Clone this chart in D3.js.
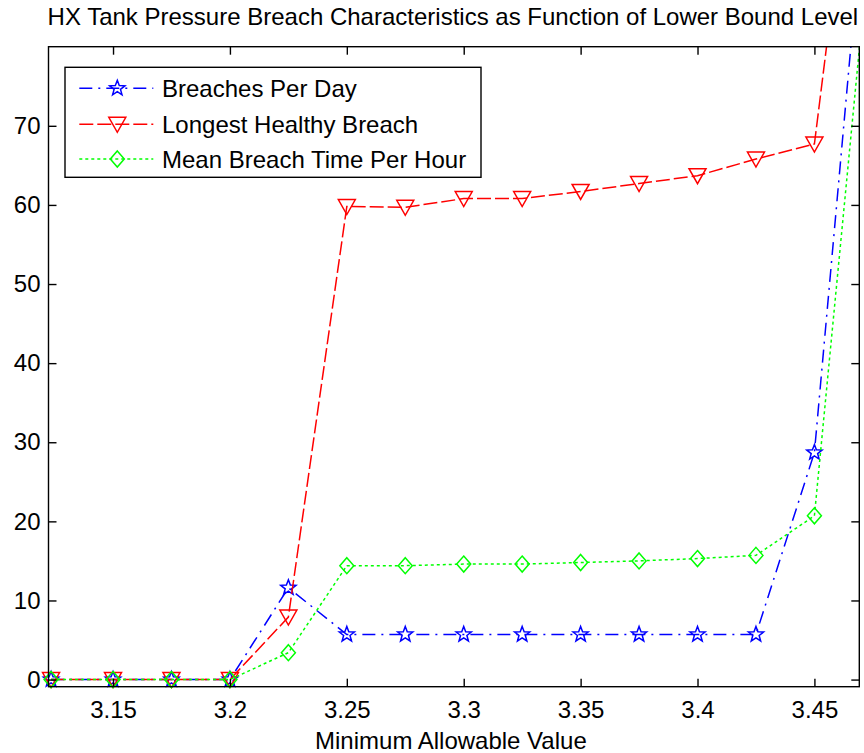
<!DOCTYPE html>
<html>
<head>
<meta charset="utf-8">
<script src="https://cdn.jsdelivr.net/npm/d3@7"></script>
<style>
html,body{margin:0;padding:0;background:#fff;}
text{font-family:"Liberation Sans",Arial,sans-serif;fill:#000;}
</style>
</head>
<body>
<svg id="chart" width="864" height="753"></svg>
<script>
// ---- data ----
const xValues = [3.1235, 3.15, 3.175, 3.2, 3.225, 3.25, 3.275, 3.3, 3.325, 3.35, 3.375, 3.4, 3.425, 3.45, 3.475];
const breachesPerDay = [0, 0, 0, 0, 11.6, 5.7, 5.7, 5.7, 5.7, 5.7, 5.7, 5.7, 5.7, 28.7, 111];
const longestHealthyBreach = [0, 0, 0, 0, 7.9, 59.8, 59.7, 60.8, 60.8, 61.7, 62.7, 63.7, 65.8, 67.7, 127];
const meanBreachTimePerHour = [0, 0, 0, 0, 3.4, 14.4, 14.4, 14.6, 14.6, 14.8, 15.0, 15.3, 15.7, 20.7, 97.5];
const seriesNames = ["Breaches Per Day", "Longest Healthy Breach", "Mean Breach Time Per Hour"];
const xTicks = [3.15, 3.2, 3.25, 3.3, 3.35, 3.4, 3.45];
const xTickLabels = ["3.15", "3.2", "3.25", "3.3", "3.35", "3.4", "3.45"];
const yTicks = [0, 10, 20, 30, 40, 50, 60, 70];
const titleText = "HX Tank Pressure Breach Characteristics as Function of Lower Bound Level";
const xLabelText = "Minimum Allowable Value";

// ---- layout ----
const L = 48.5, R = 859.3, T = 46.7, B = 686.7;
const FS = 24;
const svg = d3.select("#chart");
const x = d3.scaleLinear().domain([3.1224, 3.4692]).range([L, R]);
const y = d3.scaleLinear().domain([-0.9, 80]).range([B, T]);

const series = [
  {name: seriesNames[0], values: breachesPerDay, color: "#0000ff", dash: "13,6,2,6", marker: "star"},
  {name: seriesNames[1], values: longestHealthyBreach, color: "#ff0000", dash: "14,4", marker: "tri"},
  {name: seriesNames[2], values: meanBreachTimePerHour, color: "#00ff00", dash: "3,3", marker: "diamond"}
];

svg.append("defs").append("clipPath").attr("id", "clip")
  .append("rect").attr("x", L).attr("y", T).attr("width", R - L).attr("height", B - T);

// markers
function starPath(r) {
  const pts = [];
  const ri = r * 0.42;
  for (let i = 0; i < 10; i++) {
    const a = -Math.PI / 2 + i * Math.PI / 5;
    const rr = i % 2 === 0 ? r : ri;
    pts.push([rr * Math.cos(a), rr * Math.sin(a)]);
  }
  return "M" + pts.map(p => p[0].toFixed(2) + "," + p[1].toFixed(2)).join("L") + "Z";
}
function markerPath(type) {
  if (type === "star") return starPath(8);
  if (type === "tri") return "M-8.5,-7L8.5,-7L0,8Z";
  if (type === "diamond") return "M0,-8L7,0L0,8L-7,0Z";
}

// lines
const line = d3.line().x((d, i) => x(xValues[i])).y(d => y(d));
const plotG = svg.append("g");
series.forEach(s => {
  plotG.append("path")
    .attr("clip-path", "url(#clip)")
    .attr("d", line(s.values))
    .attr("fill", "none")
    .attr("stroke", s.color)
    .attr("stroke-width", 1.5)
    .attr("stroke-dasharray", s.dash);
  plotG.selectAll(null)
    .data(s.values.map((v, i) => ({xv: xValues[i], v})).filter(d => d.v <= 80 && d.xv <= 3.4692))
    .enter().append("path")
    .attr("d", markerPath(s.marker))
    .attr("transform", d => `translate(${x(d.xv)},${y(d.v)})`)
    .attr("fill", "none")
    .attr("stroke", s.color)
    .attr("stroke-width", 1.5);
});

// frame
const tickLen = 8;
svg.append("rect").attr("x", L).attr("y", T).attr("width", R - L).attr("height", B - T)
  .attr("fill", "none").attr("stroke", "#000").attr("stroke-width", 1.4);

const xAxisB = d3.axisBottom(x).tickValues(xTicks).tickFormat((d, i) => xTickLabels[i]).tickSize(-tickLen).tickPadding(14);
const gx = svg.append("g").attr("transform", `translate(0,${B})`).call(xAxisB);
const xAxisT = d3.axisTop(x).tickValues(xTicks).tickFormat("").tickSize(-tickLen);
const gxt = svg.append("g").attr("transform", `translate(0,${T})`).call(xAxisT);
const yAxisL = d3.axisLeft(y).tickValues(yTicks).tickFormat(d3.format("d")).tickSize(-tickLen).tickPadding(8);
const gy = svg.append("g").attr("transform", `translate(${L},0)`).call(yAxisL);
const yAxisR = d3.axisRight(y).tickValues(yTicks).tickFormat("").tickSize(-tickLen);
const gyr = svg.append("g").attr("transform", `translate(${R},0)`).call(yAxisR);
[gx, gxt, gy, gyr].forEach(g => {
  g.select(".domain").remove();
  g.selectAll(".tick line").attr("stroke", "#000").attr("stroke-width", 1.4);
  g.selectAll(".tick text").attr("font-size", FS).attr("font-family", "Liberation Sans, Arial, sans-serif").attr("fill", "#000");
});

// title and label
svg.append("text").attr("x", (L + R) / 2 - 1).attr("y", 25).attr("text-anchor", "middle")
  .attr("font-size", FS).text(titleText);
svg.append("text").attr("x", (L + R) / 2 - 3).attr("y", 749).attr("text-anchor", "middle")
  .attr("font-size", FS).text(xLabelText);

// legend
const lg = svg.append("g");
lg.append("rect").attr("x", 65).attr("y", 67.3).attr("width", 416).attr("height", 110)
  .attr("fill", "#fff").attr("stroke", "#000").attr("stroke-width", 1.4);
const rowY = [88.3, 124.3, 159];
series.forEach((s, i) => {
  const yy = rowY[i];
  lg.append("line").attr("x1", 79.3).attr("x2", 153.3).attr("y1", yy).attr("y2", yy)
    .attr("stroke", s.color).attr("stroke-width", 1.5).attr("stroke-dasharray", s.dash);
  lg.append("path").attr("d", markerPath(s.marker)).attr("transform", `translate(117.3,${yy})`)
    .attr("fill", "none").attr("stroke", s.color).attr("stroke-width", 1.5);
  lg.append("text").attr("x", 162).attr("y", yy + 8.5).attr("font-size", FS).text(s.name);
});
</script>
</body>
</html>
